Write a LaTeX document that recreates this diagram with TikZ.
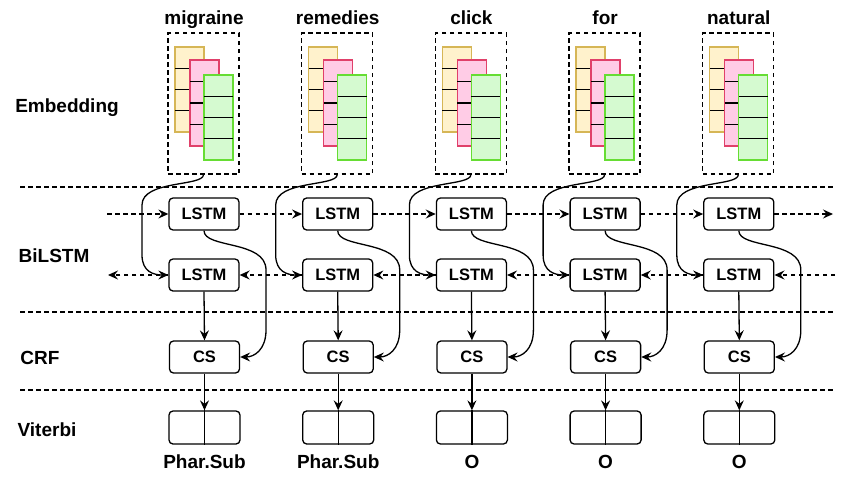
\documentclass[tikz,border=0pt]{standalone}
\usepackage{fontspec}
\setmainfont{Liberation Sans}
\usetikzlibrary{arrows.meta}
\definecolor{ylwF}{HTML}{FFF2CC}
\definecolor{ylwD}{HTML}{D6B656}
\definecolor{pnkF}{HTML}{FFCCE6}
\definecolor{pnkD}{HTML}{E0406A}
\definecolor{grnF}{HTML}{D5FAD0}
\definecolor{grnD}{HTML}{66DD33}
\begin{document}
\begin{tikzpicture}[x=1pt,y=-1pt,
  line width=1.3pt,
  tip/.style={-{Stealth[length=10pt,width=9pt,inset=3.5pt]}},
  dsh/.style={dash pattern=on 4.5pt off 3.5pt},
  box/.style={draw,rounded corners=4pt,minimum width=70pt,minimum height=32pt,inner sep=0pt,font=\fontsize{16.5}{18}\selectfont\bfseries},
  emb/.style={draw,dsh,minimum width=71pt,minimum height=141pt,inner sep=0pt},
  lbl/.style={font=\fontsize{19}{21}\selectfont\bfseries,inner sep=0pt,anchor=base}
]
\useasboundingbox (0,0) rectangle (850,479);
\fill[white] (0,0) rectangle (850,479);

% separators
\foreach \y/\n in {187/a,312/b,390/c}{
  \coordinate (sepL\n) at (20,\y);
  \coordinate (sepR\n) at (835,\y);
  \draw[dsh] (sepL\n) -- (sepR\n);
}

% row labels
\node[lbl] (tEmb) at (67,112) {Embedding};
\node[lbl] (tBi) at (54,262) {BiLSTM};
\node[lbl] (tCrf) at (40,364) {CRF};
\node[lbl] (tVit) at (47,436) {Viterbi};

\foreach \i/\w/\o in {0/migraine/Phar.Sub,1/remedies/Phar.Sub,2/click/O,3/for/O,4/natural/O}{
  \pgfmathsetmacro{\c}{204+133.7*\i}
  \node[lbl] (word\i) at (\c,24) {\w};
  \node[emb] (emb\i) at (\c-0.5,103.5) {};
  % stacked vectors
  \draw[draw=ylwD,fill=ylwF] (\c-29,47) rectangle (\c,132);
  \foreach \k in {1,2,3}{\draw (\c-29,47+21.25*\k) -- (\c,47+21.25*\k);}
  \draw[draw=pnkD,fill=pnkF] (\c-14,60) rectangle (\c+15,146);
  \foreach \k in {1,2,3}{\draw (\c-14,60+21.5*\k) -- (\c+15,60+21.5*\k);}
  \draw[draw=grnD,fill=grnF] (\c,75) rectangle (\c+29,160);
  \foreach \k in {1,2,3}{\draw (\c,75+21.25*\k) -- (\c+29,75+21.25*\k);}
  % LSTM, CS, Viterbi
  \node[box] (lf\i) at (\c,214) {LSTM};
  \node[box] (lb\i) at (\c,275) {LSTM};
  \node[box] (cs\i) at (\c+0.5,357) {CS};
  \node[box,minimum width=71pt,minimum height=33pt] (vt\i) at (\c+0.5,427.5) {};
  \draw (vt\i.north) -- (vt\i.south);
  \node[lbl] (out\i) at (\c+0.5,468) {\o};
  % connectors
  \draw[tip] (emb\i.south) .. controls +(0,12) and (\c-62,180) .. (\c-62,205)
     -- (\c-62,255) .. controls (\c-62,272) and (\c-50,275) .. (lb\i.west);
  \draw[tip] (lf\i.south) .. controls +(0,18) and (\c+62,240) .. (\c+62,270)
     -- (\c+62,330) .. controls (\c+62,350) and (\c+50,357) .. (cs\i.east);
  \draw[tip] (lb\i.south) -- (cs\i.north);
  \draw[tip] (cs\i.south) -- (vt\i.north);
}

% recurrent dashed arrows
\coordinate (fStart) at (107,214);
\coordinate (fEnd) at (833,214);
\coordinate (bEnd) at (108,275);
\coordinate (bStart) at (835,275);
\draw[dsh,tip] (fStart) -- (lf0.west);
\draw[dsh,tip] (lf4.east) -- (fEnd);
\draw[dsh,tip] (lb0.west) -- (bEnd);
\draw[dsh,tip] (bStart) -- (lb4.east);
\foreach \i/\j in {0/1,1/2,2/3,3/4}{
  \draw[dsh,tip] (lf\i.east) -- (lf\j.west);
  \draw[dsh,tip] (lb\j.west) -- (lb\i.east);
}
\end{tikzpicture}
\end{document}
